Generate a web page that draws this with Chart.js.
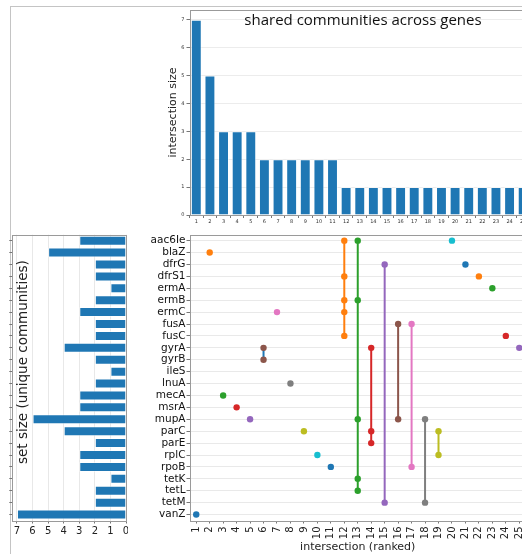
<!DOCTYPE html>
<html><head><meta charset="utf-8">
<script src="https://cdn.jsdelivr.net/npm/chart.js@4.4.0/dist/chart.umd.min.js"></script>
<style>
html,body{margin:0;padding:0;width:522px;height:554px;overflow:hidden;background:#fff;}
.abs{position:absolute;}
canvas{position:absolute;}
</style></head><body>
<div class="abs" style="left:10px;top:6px;width:512px;height:1px;background:#c4c4c4"></div>
<div class="abs" style="left:10px;top:6px;width:1px;height:548px;background:#c4c4c4"></div>
<canvas id="ca" width="380" height="232" style="left:150px;top:0px"></canvas>
<canvas id="cb" width="128" height="324" style="left:0px;top:230px"></canvas>
<canvas id="cc" width="410" height="324" style="left:120px;top:230px"></canvas>
<div class="abs" id="title" style="left:163px;top:9px;width:400px;text-align:center;font:15px 'Open Sans';line-height:20px;color:#111;white-space:nowrap">shared communities across genes</div>
<div class="abs" id="setlabel" style="left:-78px;top:356px;width:200px;height:16px;text-align:center;font:13.5px 'DejaVu Sans';line-height:16px;color:#222;white-space:nowrap;transform:rotate(-90deg);transform-origin:100px 8px">set size (unique communities)</div>
<script>
// ---- data ----
const intersectionLabels = ['1','2','3','4','5','6','7','8','9','10','11','12','13','14','15','16','17','18','19','20','21','22','23','24','25'];
const intersectionSizes = [7,5,3,3,3,2,2,2,2,2,2,1,1,1,1,1,1,1,1,1,1,1,1,1,1];
const genes = ['aac6Ie','blaZ','dfrG','dfrS1','ermA','ermB','ermC','fusA','fusC','gyrA','gyrB','ileS','lnuA','mecA','msrA','mupA','parC','parE','rplC','rpoB','tetK','tetL','tetM','vanZ'];
const setSizes = [3,5,2,2,1,2,3,2,2,4,2,1,2,3,3,6,4,2,3,3,1,2,2,7];
const members = [
  ['vanZ'],
  ['blaZ'],
  ['mecA'],
  ['msrA'],
  ['mupA'],
  ['gyrA','gyrB'],
  ['ermC'],
  ['lnuA'],
  ['parC'],
  ['rplC'],
  ['rpoB'],
  ['aac6Ie','dfrS1','ermB','ermC','fusC'],
  ['aac6Ie','ermB','mupA','tetK','tetL'],
  ['gyrA','parC','parE'],
  ['dfrG','tetM'],
  ['fusA','mupA'],
  ['fusA','rpoB'],
  ['mupA','tetM'],
  ['parC','rplC'],
  ['aac6Ie'],
  ['dfrG'],
  ['dfrS1'],
  ['ermA'],
  ['fusC'],
  ['gyrA']
];
const dotColors = ['#1f77b4','#ff7f0e','#2ca02c','#d62728','#9467bd','#8c564b','#e377c2','#7f7f7f','#bcbd22','#17becf',
                   '#1f77b4','#ff7f0e','#2ca02c','#d62728','#9467bd','#8c564b','#e377c2','#7f7f7f','#bcbd22','#17becf',
                   '#1f77b4','#ff7f0e','#2ca02c','#d62728','#9467bd'];
const lineColors = ['#1f77b4','#1f77b4','#1f77b4','#1f77b4','#1f77b4','#1f77b4','#1f77b4','#1f77b4','#1f77b4','#1f77b4',
                    '#1f77b4','#ff7f0e','#2ca02c','#d62728','#9467bd','#8c564b','#e377c2','#7f7f7f','#bcbd22','#17becf',
                    '#1f77b4','#ff7f0e','#2ca02c','#d62728','#9467bd'];
const topYTitle = 'intersection size';
const matrixXTitle = 'intersection (ranked)';

// ---- helpers ----
const FONT = 'DejaVu Sans';
const framePlugin = {
  id: 'frame',
  afterDraw(chart) {
    const {ctx, chartArea: a} = chart;
    ctx.save();
    ctx.strokeStyle = '#9a9a9a';
    ctx.lineWidth = 1;
    ctx.strokeRect(Math.round(a.left) + 0.5, Math.round(a.top) + 0.5, Math.round(a.right - a.left), Math.round(a.bottom - a.top));
    ctx.restore();
  }
};
const common = {
  responsive: false, animation: false, events: [],
  plugins: {legend: {display: false}, tooltip: {enabled: false}}
};
function fitH(h) { return s => { s.height = h; s.paddingLeft = 0; s.paddingRight = 0; s.paddingTop = 0; s.paddingBottom = 0; }; }
function fitW(w) { return s => { s.width = w; s.paddingLeft = 0; s.paddingRight = 0; s.paddingTop = 0; s.paddingBottom = 0; }; }

// ---- top: intersection sizes ----
new Chart(document.getElementById('ca'), {
  type: 'bar',
  data: {labels: intersectionLabels, datasets: [{
    data: intersectionSizes, backgroundColor: '#1f77b4', borderColor: 'rgba(255,255,255,0.5)', borderWidth: 1,
    barPercentage: 0.8, categoryPercentage: 1
  }]},
  options: Object.assign({}, common, {
    layout: {padding: {top: 10, left: 0, right: 0, bottom: 0}},
    scales: {
      x: {
        grid: {drawOnChartArea: false, drawTicks: true, tickLength: 3, tickColor: '#777'},
        border: {display: false},
        ticks: {autoSkip: false, maxRotation: 0, minRotation: 0, font: {size: 5, family: FONT}, color: '#333', padding: 1},
        afterFit: fitH(17)
      },
      y: {
        min: 0, max: 7.35,
        ticks: {stepSize: 1, includeBounds: false, font: {size: 5, family: FONT}, color: '#333', padding: 2},
        afterBuildTicks(s) { s.ticks = [0,1,2,3,4,5,6,7].map(v => ({value: v})); },
        grid: {color: '#ececec', tickColor: '#777', tickLength: 3},
        border: {display: false},
        title: {display: true, text: topYTitle, font: {size: 11, family: FONT}, color: '#222', padding: {top: 16.4, bottom: 0}},
        afterFit: fitW(39.5)
      }
    }
  }),
  plugins: [framePlugin]
});

// ---- left: set sizes ----
new Chart(document.getElementById('cb'), {
  type: 'bar',
  data: {labels: genes, datasets: [{
    data: setSizes, backgroundColor: '#1f77b4', borderColor: 'rgba(255,255,255,0.5)', borderWidth: 1,
    barPercentage: 0.84, categoryPercentage: 1
  }]},
  options: Object.assign({}, common, {
    indexAxis: 'y',
    layout: {padding: {top: 4.7, right: 2, left: 0, bottom: 0}},
    scales: {
      x: {
        reverse: true, min: 0, max: 7.3,
        ticks: {stepSize: 1, font: {size: 10, family: FONT}, color: '#222', padding: 2, maxRotation: 0},
        afterBuildTicks(s) { s.ticks = [0,1,2,3,4,5,6,7].map(v => ({value: v})); },
        grid: {color: '#e8e8e8', tickColor: '#777', tickLength: 3},
        border: {display: false},
        afterFit: fitH(33.5)
      },
      y: {
        ticks: {display: false},
        grid: {drawOnChartArea: false, offset: false, tickColor: '#777', tickLength: 3},
        border: {display: false},
        afterFit: fitW(12.3)
      }
    }
  }),
  plugins: [framePlugin]
});

// ---- matrix ----
const matrixSets = members.map((m, i) => ({
  data: m.slice().sort((a, b) => genes.indexOf(a) - genes.indexOf(b)).map(g => ({x: i + 1, y: g})),
  showLine: true, borderColor: lineColors[i], borderWidth: 2,
  pointRadius: 3.2, pointBackgroundColor: dotColors[i], pointBorderWidth: 0
}));
new Chart(document.getElementById('cc'), {
  type: 'scatter',
  data: {datasets: matrixSets},
  options: Object.assign({}, common, {
    layout: {padding: {top: 4.7, right: 0, left: 0, bottom: 0}},
    scales: {
      x: {
        type: 'linear', min: 0.5, max: 25.5,
        afterBuildTicks(s) { s.ticks = intersectionLabels.map(v => ({value: Number(v)})); },
        ticks: {autoSkip: false, minRotation: 90, maxRotation: 90, font: {size: 10, family: FONT}, color: '#222', padding: 3},
        grid: {drawOnChartArea: false, tickColor: '#777', tickLength: 3},
        border: {display: false},
        title: {display: true, text: matrixXTitle, font: {size: 11, family: FONT}, color: '#222', padding: {top: 0, bottom: 0.5}},
        afterFit: fitH(33.5)
      },
      y: {
        type: 'category', labels: genes, offset: true,
        ticks: {autoSkip: false, font: {size: 10.5, family: FONT}, color: '#111', padding: 1},
        grid: {offset: false, color: '#e9e9e9', tickColor: '#777', tickLength: 3},
        border: {display: false},
        afterFit: fitW(69.5)
      }
    }
  }),
  plugins: [framePlugin]
});
</script>
</body></html>
